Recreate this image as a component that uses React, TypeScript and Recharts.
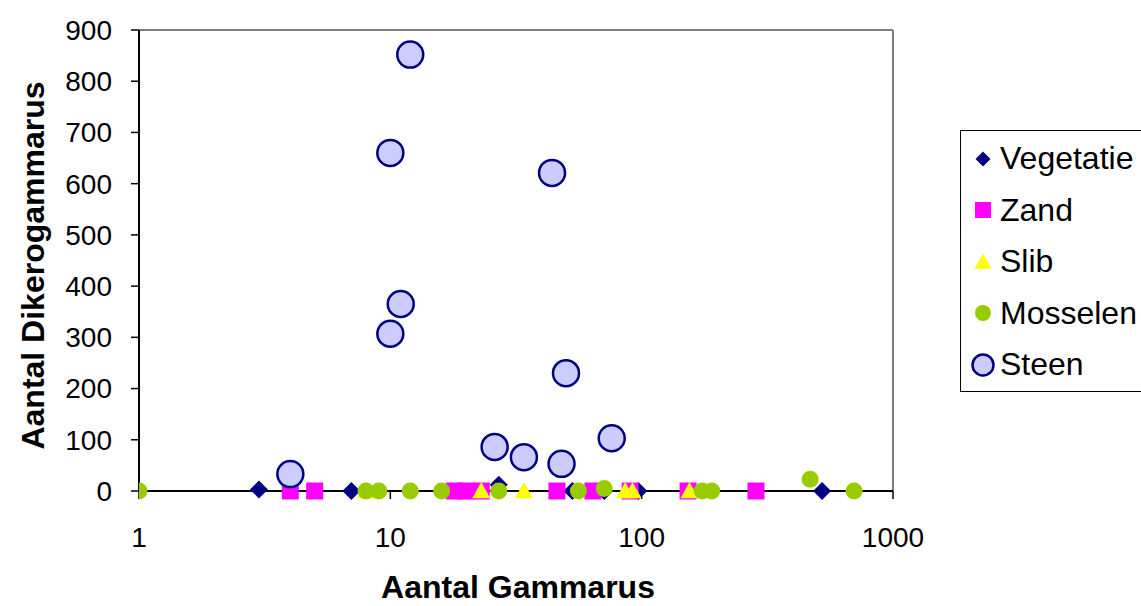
import React from 'react';
import {
  ScatterChart,
  Scatter,
  XAxis,
  YAxis,
  ReferenceLine,
} from 'recharts';

// [Aantal Gammarus, Aantal Dikerogammarus] per substrate
const vegetatie: [number, number][] = [
  [3, 3], [7, 0], [27, 12], [53, 0], [71, 0], [97, 0], [522, 0],
];
const zand: [number, number][] = [
  [4, 0], [5, 0], [18, 0], [20, 0], [23, 0], [46, 0], [64, 0], [90, 0], [153, 0], [285, 0],
];
const slib: [number, number][] = [
  [8, 0], [23, 0], [34, 0], [86, 0], [92, 0], [155, 0],
];
const mosselen: [number, number][] = [
  [1, 0], [8, 0], [9, 0], [12, 0], [16, 0], [27, 0], [56, 0], [71, 5], [174, 0], [190, 0], [468, 23], [700, 0],
];
const steen: [number, number][] = [
  [4, 33], [10, 660], [12, 852], [11, 365], [10, 307], [26, 86], [34, 66], [44, 621], [48, 53], [50, 230], [76, 103],
];

const xTicks = [1, 10, 100, 1000];
const yTicks = [0, 100, 200, 300, 400, 500, 600, 700, 800, 900];

const FONT = '"Liberation Sans", Arial, sans-serif';
const NAVY = '#000080';

const toPoints = (rows: [number, number][]) => rows.map(([x, y]) => ({ x, y }));

const diamondShape = (s: number) => (p: any) => (
  <polygon
    points={`${p.cx},${p.cy - s} ${p.cx + s},${p.cy} ${p.cx},${p.cy + s} ${p.cx - s},${p.cy}`}
    fill={NAVY}
  />
);
const squareShape = (s: number) => (p: any) => (
  <rect x={p.cx - s} y={p.cy - s} width={s * 2} height={s * 2} fill="#FF00FF" />
);
const triangleShape = (s: number) => (p: any) => (
  <polygon
    points={`${p.cx},${p.cy - s} ${p.cx + s},${p.cy + s * 0.8} ${p.cx - s},${p.cy + s * 0.8}`}
    fill="#FFFF00"
  />
);
const dotShape = (s: number) => (p: any) => <circle cx={p.cx} cy={p.cy} r={s} fill="#99CC00" />;
const ringShape = (s: number) => (p: any) => (
  <circle cx={p.cx} cy={p.cy} r={s} fill="#CCCCFF" stroke={NAVY} strokeWidth={2.5} />
);

const series = [
  { name: 'Vegetatie', data: vegetatie, shape: diamondShape(9), icon: diamondShape(7.5) },
  { name: 'Zand', data: zand, shape: squareShape(8.5), icon: squareShape(8) },
  { name: 'Slib', data: slib, shape: triangleShape(9), icon: triangleShape(8.5) },
  { name: 'Mosselen', data: mosselen, shape: dotShape(8.5), icon: dotShape(8) },
  { name: 'Steen', data: steen, shape: ringShape(13), icon: ringShape(10.5) },
];

function LegendBox() {
  return (
    <div
      style={{
        position: 'absolute',
        left: 960,
        top: 130,
        border: '1px solid #000',
        background: '#fff',
        width: 200,
        height: 262,
        paddingTop: 2,
        boxSizing: 'border-box',
        fontFamily: FONT,
        fontSize: 32,
      }}
    >
      {series.map((s) => (
        <div key={s.name} style={{ height: 51.5, display: 'flex', alignItems: 'center' }}>
          <svg width={38} height={30} style={{ flex: 'none' }}>
            {s.icon({ cx: 22, cy: 15 })}
          </svg>
          <span style={{ marginLeft: 1, color: '#000', whiteSpace: 'nowrap' }}>{s.name}</span>
        </div>
      ))}
    </div>
  );
}

const YTitle = (props: any) => {
  const { x, y, height } = props.viewBox;
  const cx = x + 33;
  const cy = y + height / 2 + 5;
  return (
    <text
      x={cx}
      y={cy}
      transform={`rotate(-90 ${cx} ${cy})`}
      textAnchor="middle"
      dominantBaseline="central"
      fill="#000"
      fontSize={32}
      fontWeight="bold"
      fontFamily={FONT}
    >
      Aantal Dikerogammarus
    </text>
  );
};

const XTitle = (props: any) => {
  const { x, width } = props.viewBox;
  return (
    <text
      x={x + width / 2 + 2}
      y={598}
      textAnchor="middle"
      fill="#000"
      fontSize={32}
      fontWeight="bold"
      fontFamily={FONT}
    >
      Aantal Gammarus
    </text>
  );
};

export default function App() {
  return (
    <div style={{ position: 'absolute', left: 0, top: 0, width: 1141, height: 606, background: '#fff' }}>
      <ScatterChart
        width={1141}
        height={606}
        margin={{ top: 30, right: 248, bottom: 0, left: 0 }}
        style={{ fontFamily: FONT }}
      >
        <XAxis
          type="number"
          dataKey="x"
          scale="log"
          domain={[1, 1000]}
          ticks={xTicks}
          allowDataOverflow
          height={115}
          axisLine={{ stroke: '#000', strokeWidth: 2 }}
          tickLine={{ stroke: '#000', strokeWidth: 1.5 }}
          tickSize={8}
          tickMargin={28}
          tick={{ fill: '#000', fontSize: 28 }}
          label={<XTitle />}
        />
        <YAxis
          type="number"
          dataKey="y"
          domain={[0, 900]}
          ticks={yTicks}
          interval={0}
          width={139}
          axisLine={{ stroke: '#000', strokeWidth: 2 }}
          tickLine={{ stroke: '#000', strokeWidth: 1.5 }}
          tickSize={8}
          tickMargin={19}
          tick={{ fill: '#000', fontSize: 28 }}
          label={<YTitle />}
        />
        <ReferenceLine y={900} stroke="#808080" strokeWidth={2} />
        <ReferenceLine x={1000} stroke="#808080" strokeWidth={2} />
        {series.map((s) => (
          <Scatter
            key={s.name}
            name={s.name}
            data={toPoints(s.data)}
            shape={s.shape}
            isAnimationActive={false}
          />
        ))}
      </ScatterChart>
      <LegendBox />
    </div>
  );
}
